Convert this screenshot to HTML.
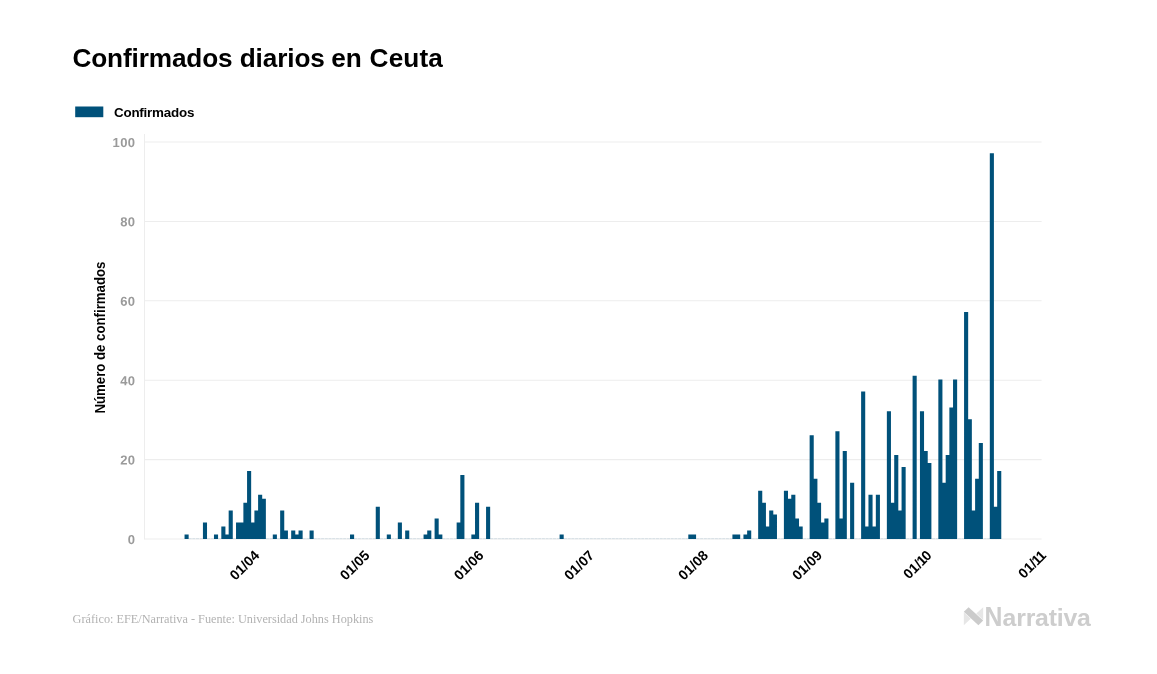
<!DOCTYPE html>
<html lang="es"><head><meta charset="utf-8"><title>Confirmados diarios en Ceuta</title>
<style>
html,body{margin:0;padding:0;background:#fff;}
body{width:1157px;height:674px;overflow:hidden;font-family:"Liberation Sans",sans-serif;}
svg{display:block}
.t{font-family:"Liberation Sans",sans-serif;font-weight:bold;}
.yl{font-size:13px;letter-spacing:0.4px;fill:#9a9a9a;text-anchor:end;}
.xl{font-size:14px;fill:#000;text-anchor:end;}
.ft{font-family:"Liberation Serif",serif;font-size:12.25px;fill:#b2b2b2;}
</style></head><body>
<svg width="1157" height="674" viewBox="0 0 1157 674">
<rect width="1157" height="674" fill="#fff"/>
<text class="t" x="72.4" y="67.3" font-size="26.2" letter-spacing="-0.12" fill="#000">Confirmados diarios <tspan dx="-0.7">en </tspan><tspan dx="0.9" letter-spacing="0.12">Ceuta</tspan></text>
<rect x="75.2" y="106.5" width="28.1" height="10.7" fill="#00517a"/>
<text class="t" x="114" y="116.6" font-size="13.4" letter-spacing="-0.22" fill="#000">Confirmados</text>

<line x1="144.5" x2="1041.6" y1="539.00" y2="539.00" stroke="#ededed" stroke-width="1.05"/>
<text class="t yl" transform="translate(135.5,543.95) rotate(0.03)">0</text>
<line x1="144.5" x2="1041.6" y1="459.60" y2="459.60" stroke="#ededed" stroke-width="1.05"/>
<text class="t yl" transform="translate(135.5,464.55) rotate(0.03)">20</text>
<line x1="144.5" x2="1041.6" y1="380.20" y2="380.20" stroke="#ededed" stroke-width="1.05"/>
<text class="t yl" transform="translate(135.5,385.15) rotate(0.03)">40</text>
<line x1="144.5" x2="1041.6" y1="300.80" y2="300.80" stroke="#ededed" stroke-width="1.05"/>
<text class="t yl" transform="translate(135.5,305.75) rotate(0.03)">60</text>
<line x1="144.5" x2="1041.6" y1="221.40" y2="221.40" stroke="#ededed" stroke-width="1.05"/>
<text class="t yl" transform="translate(135.5,226.35) rotate(0.03)">80</text>
<line x1="144.5" x2="1041.6" y1="142.00" y2="142.00" stroke="#ededed" stroke-width="1.05"/>
<text class="t yl" transform="translate(135.5,146.95) rotate(0.03)">100</text>
<line x1="144.5" x2="144.5" y1="134" y2="539.5" stroke="#ededed" stroke-width="1.05"/>
<line x1="188.65" x2="999.217" y1="538.7" y2="538.7" stroke="#00517a" stroke-opacity="0.18" stroke-width="0.8" stroke-dasharray="3 0.68"/>
<path fill="#00517a" d="M184.55,539.00 L184.55,534.43 L188.65,534.43 L188.65,539.00Z M202.93,539.00 L202.93,522.52 L207.03,522.52 L207.03,539.00Z M213.97,539.00 L213.97,534.43 L218.07,534.43 L218.07,539.00Z M221.32,539.00 L221.32,526.49 L225.42,526.49 L225.42,534.43 L228.67,534.43 L228.67,510.61 L232.77,510.61 L232.77,539.00Z M236.03,539.00 L236.03,522.52 L240.13,522.52 L240.13,522.52 L243.38,522.52 L243.38,502.67 L247.06,502.67 L247.06,470.91 L251.16,470.91 L251.16,522.52 L254.41,522.52 L254.41,510.61 L258.09,510.61 L258.09,494.73 L262.19,494.73 L262.19,498.70 L265.87,498.70 L265.87,539.00Z M272.80,539.00 L272.80,534.43 L276.90,534.43 L276.90,539.00Z M280.15,539.00 L280.15,510.61 L284.25,510.61 L284.25,530.46 L287.93,530.46 L287.93,539.00Z M291.18,539.00 L291.18,530.46 L295.28,530.46 L295.28,534.43 L298.54,534.43 L298.54,530.46 L302.64,530.46 L302.64,539.00Z M309.57,539.00 L309.57,530.46 L313.67,530.46 L313.67,539.00Z M350.01,539.00 L350.01,534.43 L354.12,534.43 L354.12,539.00Z M375.75,539.00 L375.75,506.64 L379.85,506.64 L379.85,539.00Z M386.79,539.00 L386.79,534.43 L390.89,534.43 L390.89,539.00Z M397.82,539.00 L397.82,522.52 L401.92,522.52 L401.92,539.00Z M405.17,539.00 L405.17,530.46 L409.27,530.46 L409.27,539.00Z M423.56,539.00 L423.56,534.43 L427.23,534.43 L427.23,530.46 L431.33,530.46 L431.33,539.00Z M434.59,539.00 L434.59,518.55 L438.69,518.55 L438.69,534.43 L442.36,534.43 L442.36,539.00Z M456.65,539.00 L456.65,522.52 L460.32,522.52 L460.32,474.88 L464.43,474.88 L464.43,539.00Z M471.36,539.00 L471.36,534.43 L475.03,534.43 L475.03,502.67 L479.13,502.67 L479.13,539.00Z M486.06,539.00 L486.06,506.64 L490.16,506.64 L490.16,539.00Z M559.60,539.00 L559.60,534.43 L563.70,534.43 L563.70,539.00Z M688.30,539.00 L688.30,534.43 L692.40,534.43 L692.40,534.43 L696.08,534.43 L696.08,539.00Z M732.42,539.00 L732.42,534.43 L736.52,534.43 L736.52,534.43 L740.20,534.43 L740.20,539.00Z M743.45,539.00 L743.45,534.43 L747.13,534.43 L747.13,530.46 L751.23,530.46 L751.23,539.00Z M758.16,539.00 L758.16,490.76 L762.26,490.76 L762.26,502.67 L765.94,502.67 L765.94,526.49 L769.19,526.49 L769.19,510.61 L773.29,510.61 L773.29,514.58 L776.97,514.58 L776.97,539.00Z M783.90,539.00 L783.90,490.76 L788.00,490.76 L788.00,498.70 L791.26,498.70 L791.26,494.73 L795.36,494.73 L795.36,518.55 L799.03,518.55 L799.03,526.49 L802.71,526.49 L802.71,539.00Z M809.64,539.00 L809.64,435.18 L813.74,435.18 L813.74,478.85 L817.42,478.85 L817.42,502.67 L821.09,502.67 L821.09,522.52 L824.35,522.52 L824.35,518.55 L828.45,518.55 L828.45,539.00Z M835.38,539.00 L835.38,431.21 L839.48,431.21 L839.48,518.55 L842.73,518.55 L842.73,451.06 L846.83,451.06 L846.83,539.00Z M850.09,539.00 L850.09,482.82 L854.19,482.82 L854.19,539.00Z M861.12,539.00 L861.12,391.51 L865.22,391.51 L865.22,526.49 L868.47,526.49 L868.47,494.73 L872.57,494.73 L872.57,526.49 L875.83,526.49 L875.83,494.73 L879.93,494.73 L879.93,539.00Z M886.86,539.00 L886.86,411.36 L890.96,411.36 L890.96,502.67 L894.21,502.67 L894.21,455.03 L898.31,455.03 L898.31,510.61 L901.57,510.61 L901.57,466.94 L905.66,466.94 L905.66,539.00Z M912.60,539.00 L912.60,375.63 L916.70,375.63 L916.70,539.00Z M919.95,539.00 L919.95,411.36 L924.05,411.36 L924.05,451.06 L927.73,451.06 L927.73,462.97 L931.40,462.97 L931.40,539.00Z M938.34,539.00 L938.34,379.60 L942.43,379.60 L942.43,482.82 L945.69,482.82 L945.69,455.03 L949.37,455.03 L949.37,407.39 L953.04,407.39 L953.04,379.60 L957.14,379.60 L957.14,539.00Z M964.07,539.00 L964.07,312.11 L968.17,312.11 L968.17,419.30 L971.85,419.30 L971.85,510.61 L975.11,510.61 L975.11,478.85 L978.78,478.85 L978.78,443.12 L982.88,443.12 L982.88,539.00Z M989.81,539.00 L989.81,153.31 L993.91,153.31 L993.91,506.64 L997.17,506.64 L997.17,470.91 L1001.27,470.91 L1001.27,539.00Z"/>
<text class="t xl" transform="translate(260.3,556.3) rotate(-45)">01/04</text>
<text class="t xl" transform="translate(370.6,556.3) rotate(-45)">01/05</text>
<text class="t xl" transform="translate(484.6,556.3) rotate(-45)">01/06</text>
<text class="t xl" transform="translate(594.9,556.3) rotate(-45)">01/07</text>
<text class="t xl" transform="translate(708.9,556.3) rotate(-45)">01/08</text>
<text class="t xl" transform="translate(822.9,556.3) rotate(-45)">01/09</text>
<text class="t xl" transform="translate(932.6,556.3) rotate(-45)">01/<tspan dx="-0.8">1</tspan><tspan dx="-1.0">0</tspan></text>
<text class="t xl" transform="translate(1046.9,556.3) rotate(-45)">01/<tspan dx="-0.8">1</tspan><tspan dx="-1.2">1</tspan></text>
<text class="t" font-size="14.4" fill="#000" text-anchor="middle" transform="translate(105.2,337.6) rotate(-90) scale(0.918,1)">Número de confirmados</text>
<text class="ft" x="72.6" y="622.8">Gráfico: EFE/Narrativa - Fuente: Universidad Johns Hopkins</text>
<g>
<polygon points="963.8,612.2 963.8,625.2 970.7,618.7" fill="#e6e6e6"/>
<polygon points="983.2,607.2 983.2,620 976.3,613.6" fill="#e6e6e6"/>
<polygon points="963.8,611.8 968.6,607.2 983.2,620.6 978.4,625.2" fill="#cbcbcb"/>
<text class="t" font-size="24.8" fill="#cdcdcd" transform="translate(984.5,625.8) scale(1,1.085)">N</text><text class="t" x="1002.6" y="625.8" font-size="24.8" letter-spacing="-0.2" fill="#cdcdcd">arrativa</text>
</g>
</svg></body></html>
